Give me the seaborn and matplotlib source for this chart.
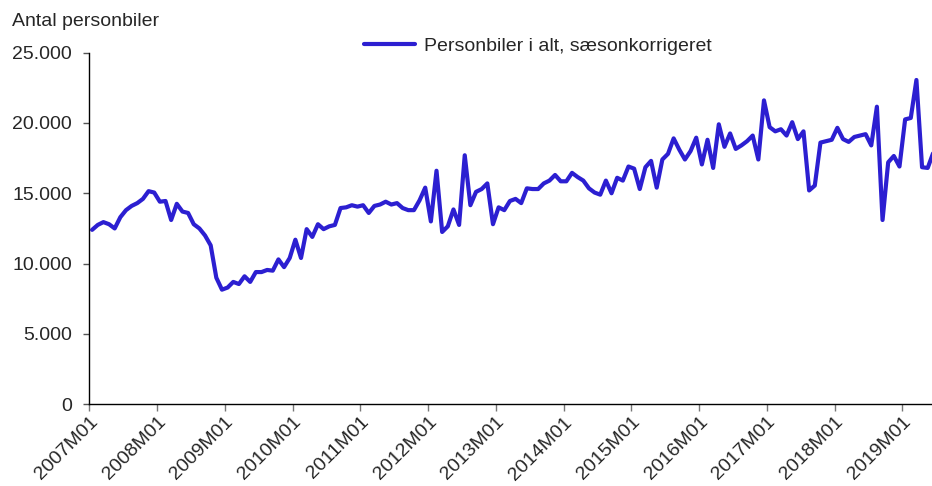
import numpy as np
import pandas as pd
import matplotlib
matplotlib.use("Agg")
import matplotlib.pyplot as plt
from matplotlib.ticker import FuncFormatter
from matplotlib.transforms import ScaledTranslation
import seaborn as sns

# monthly values, seasonally adjusted (thousands), 2007M01 - 2019M06
years = list(range(2007, 2020))
cars_k = [
    12.4, 12.75, 12.95, 12.8, 12.5, 13.3, 13.8, 14.1, 14.3, 14.6, 15.15, 15.05,
    14.4, 14.45, 13.1, 14.25, 13.7, 13.6, 12.8, 12.5, 12.0, 11.3, 9.0, 8.15,
    8.3, 8.7, 8.55, 9.1, 8.7, 9.4, 9.4, 9.55, 9.5, 10.3, 9.75, 10.4,
    11.7, 10.4, 12.45, 11.9, 12.8, 12.45, 12.65, 12.75, 13.95, 14.0, 14.15, 14.05,
    14.15, 13.6, 14.1, 14.2, 14.4, 14.2, 14.3, 13.95, 13.8, 13.8, 14.5, 15.4,
    13.0, 16.6, 12.25, 12.65, 13.85, 12.75, 17.7, 14.15, 15.1, 15.3, 15.7, 12.8,
    14.0, 13.8, 14.45, 14.6, 14.3, 15.35, 15.3, 15.3, 15.7, 15.9, 16.3, 15.85,
    15.85, 16.45, 16.15, 15.9, 15.35, 15.05, 14.9, 15.9, 15.0, 16.1, 15.9, 16.9,
    16.75, 15.3, 16.85, 17.3, 15.4, 17.4, 17.8, 18.9, 18.1, 17.4, 18.0, 18.95,
    17.05, 18.8, 16.8, 19.9, 18.3, 19.25, 18.15, 18.4, 18.7, 19.1, 17.4, 21.6,
    19.7, 19.4, 19.55, 19.1, 20.05, 18.85, 19.4, 15.2, 15.55, 18.6, 18.7, 18.8,
    19.65, 18.85, 18.65, 19.0, 19.1, 19.2, 18.4, 21.15, 13.1, 17.2, 17.65, 16.9,
    20.25, 20.35, 23.05, 16.85, 16.8, 17.9,
]
tick_labels = [f"{y}M01" for y in years]
series_name = "Personbiler i alt, sæsonkorrigeret"

df = pd.DataFrame({
    "month": np.arange(len(cars_k)),
    "cars": np.array(cars_k) * 1000,
    "serie": series_name,
})

sns.set_style("white")
plt.rcParams["font.family"] = ["Liberation Sans", "DejaVu Sans"]

fig = plt.figure(figsize=(9.32, 4.86), dpi=100)
ax = fig.add_axes([0.0958, 0.168, 0.9042, 0.7239])

sns.lineplot(data=df, x="month", y="cars", hue="serie", palette=["#2c1fd1"],
             linewidth=3.0, ax=ax)

ax.set_xlim(-0.5, 148.76)
ax.set_ylim(0, 25000)
ax.set_yticks(np.arange(0, 25001, 5000))
ax.yaxis.set_major_formatter(FuncFormatter(lambda v, p: f"{v:,.0f}".replace(",", ".")))
ax.set_xticks(np.arange(len(years)) * 12 - 0.5)
ax.set_xticklabels(tick_labels, rotation=45, ha="right", va="center",
                   rotation_mode="anchor")
ax.set_xlabel("")
ax.set_ylabel("")

sns.despine(ax=ax)
for s in ["left", "bottom"]:
    ax.spines[s].set_color("black")
    ax.spines[s].set_linewidth(1.0)
ax.tick_params(axis="y", which="major", left=True, length=4.5, width=1,
               color="#555555", labelsize=14, pad=8)
ax.tick_params(axis="x", which="major", bottom=True, length=5, width=1,
               color="#777777", labelsize=14, pad=6)
shift = ScaledTranslation(6 / 100, 0, fig.dpi_scale_trans)
for lbl in ax.get_xticklabels():
    lbl.set_transform(lbl.get_transform() + shift)

fig.text(0.013, 0.955, "Antal personbiler", fontsize=14, va="center", ha="left")

ax.legend(loc="center left", bbox_to_anchor=(0.372, 0.905), bbox_transform=fig.transFigure,
          frameon=False, fontsize=14, handlelength=2.6, handletextpad=0.45)

fig.savefig("out.png", dpi=100)
